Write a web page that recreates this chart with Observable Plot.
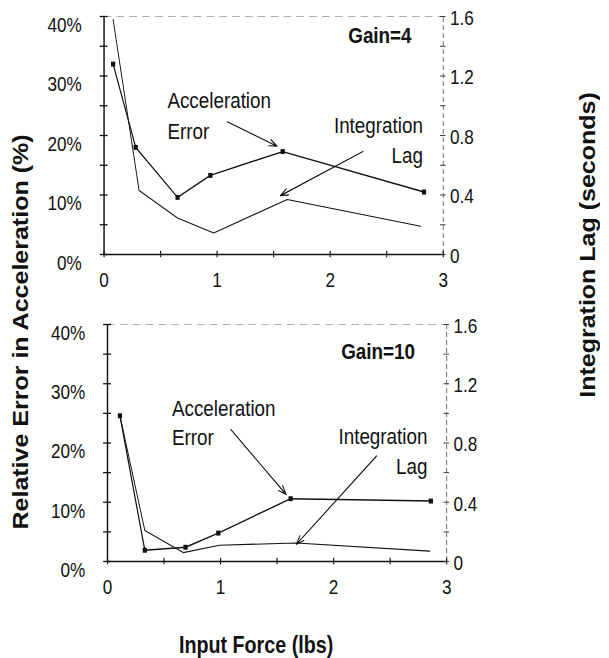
<!DOCTYPE html>
<html>
<head>
<meta charset="utf-8">
<script src="https://cdn.jsdelivr.net/npm/d3@7"></script>
<script src="https://cdn.jsdelivr.net/npm/@observablehq/plot@0.6"></script>
<style>
  html, body { margin: 0; padding: 0; background: #fff; overflow: hidden; }
  #clip { position: relative; width: 609px; height: 658px; overflow: hidden; background: #fff; }
  /* the scanned figure is horizontally condensed; draw on a wider canvas and squeeze it */
  #wrap { position: absolute; left: 0; top: 0; width: 711px; height: 658px;
          transform: scaleX(0.8565); transform-origin: 0 0;
          font-family: "Liberation Sans", Arial, Helvetica, sans-serif; color: #111; }
  .panel { position: absolute; left: 0; }
  .title { position: absolute; white-space: nowrap; line-height: 1; font-weight: bold; font-size: 25px; }
</style>
</head>
<body>
<div id="clip">
<div id="wrap">
  <div id="p1" class="panel" style="top:0px"></div>
  <div id="p2" class="panel" style="top:300px"></div>
  <div class="title" style="left:24px; top:332px; transform: translate(-50%,-50%) rotate(-90deg);">Relative Error in Acceleration (%)</div>
  <div class="title" style="left:686px; top:245px; transform: translate(-50%,-50%) rotate(-90deg);">Integration Lag (seconds)</div>
  <div class="title" style="left:299px; top:645px; font-size:23px; transform: translate(-50%,-50%);">Input Force (lbs)</div>
</div>
</div>
<script>
// ---------- data ----------
// Gain = 4
const force4    = [0.08, 0.28, 0.65, 0.94, 1.58, 2.83];
const accErr4   = [32.0, 18.0, 9.6, 13.3, 17.3, 10.5];      // %
const lagForce4 = [0.08, 0.31, 0.65, 0.97, 1.62, 2.80];
const lag4      = [1.58, 0.43, 0.245, 0.145, 0.37, 0.19];   // seconds

// Gain = 10
const force10    = [0.11, 0.33, 0.69, 0.98, 1.62, 2.86];
const accErr10   = [24.6, 1.9, 2.4, 4.8, 10.6, 10.2];       // %
const lagForce10 = [0.11, 0.33, 0.67, 0.99, 1.67, 2.85];
const lag10      = [0.985, 0.21, 0.06, 0.11, 0.125, 0.07];  // seconds

// axis ticks
const accTicks        = [0, 10, 20, 30, 40];
const accTickLabels   = ["0%", "10%", "20%", "30%", "40%"];
const accMinorTicks   = [0, 5, 10, 15, 20, 25, 30, 35, 40];
const lagTicks        = [0, 0.4, 0.8, 1.2, 1.6];
const lagTickLabels   = ["0", "0.4", "0.8", "1.2", "1.6"];
const lagMinorTicks   = [0, 0.2, 0.4, 0.6, 0.8, 1.0, 1.2, 1.4, 1.6];
const forceTicks      = [0, 1, 2, 3];
const forceTickLabels = ["0", "1", "2", "3"];
const forceMinorTicks = [0, 0.5, 1, 1.5, 2, 2.5, 3];

// annotations (data coordinates: force, %)
const gainLabels = ["Gain=4", "Gain=10"];
const notes4 = [
  {text: "Acceleration", x: 0.56, y: 25.8, anchor: "start"},
  {text: "Error",        x: 0.56, y: 20.6, anchor: "start"},
  {text: "Integration",  x: 2.82, y: 21.6, anchor: "end"},
  {text: "Lag",          x: 2.82, y: 16.6, anchor: "end"}
];
const arrows4 = [
  {x1: 1.09, y1: 22.3, x2: 1.53, y2: 18.2},
  {x1: 2.29, y1: 17.3, x2: 1.56, y2: 9.9}
];
const notes10 = [
  {text: "Acceleration", x: 0.57, y: 25.8, anchor: "start"},
  {text: "Error",        x: 0.57, y: 20.8, anchor: "start"},
  {text: "Integration",  x: 2.83, y: 21.0, anchor: "end"},
  {text: "Lag",          x: 2.83, y: 15.9, anchor: "end"}
];
const arrows10 = [
  {x1: 1.09, y1: 22.3, x2: 1.58, y2: 11.3},
  {x1: 2.38, y1: 17.8, x2: 1.67, y2: 2.9}
];

// ---------- drawing ----------
const LAG_TO_PCT = 25; // 1.6 s on the right axis sits at 40 % on the left axis

function panel({force, acc, lagForce, lag, gain, gainY, notes, arrows, width, height, ml, mr, mt, mb}) {
  const accData = force.map((f, i) => ({force: f, acc: acc[i]}));
  const lagData = lagForce.map((f, i) => ({force: f, lag: lag[i]}));
  return Plot.plot({
    width, height,
    marginLeft: ml, marginRight: mr, marginTop: mt, marginBottom: mb,
    x: {domain: [0, 3]},
    y: {domain: [0, 40]},
    style: {fontFamily: '"Liberation Sans", Arial, Helvetica, sans-serif', fontSize: "20px",
            background: "transparent", color: "#111", overflow: "visible"},
    marks: [
      // frame pieces
      Plot.ruleY([40], {x1: 0, x2: 3, stroke: "#aaa", strokeWidth: 1, strokeDasharray: "9,6"}),
      Plot.ruleX([3], {y1: 0, y2: 40, stroke: "#666", strokeWidth: 1, strokeDasharray: "5,3"}),
      Plot.ruleX([0], {y1: 0, y2: 40, stroke: "#111", strokeWidth: 1.7}),
      Plot.ruleY([0], {x1: 0, x2: 3, stroke: "#111", strokeWidth: 1.6}),
      // cross ticks
      Plot.ruleY(accMinorTicks, {y: d => d, x1: -0.035, x2: 0.035, stroke: "#111", strokeWidth: 1.3}),
      Plot.ruleY(lagMinorTicks, {y: d => d * LAG_TO_PCT, x1: 3 - 0.025, x2: 3 + 0.025, stroke: "#333", strokeWidth: 1}),
      Plot.ruleX(forceMinorTicks, {x: d => d, y1: -0.55, y2: 0.55, stroke: "#111", strokeWidth: 1.3}),
      // axis labels
      Plot.axisY({ticks: accTicks, tickSize: 0, tickPadding: 26, dy: 9,
                  tickFormat: d => accTickLabels[accTicks.indexOf(d)]}),
      Plot.axisY({anchor: "right", ticks: lagTicks.map(d => d * LAG_TO_PCT), tickSize: 0, tickPadding: 8, dy: 2,
                  tickFormat: (d, i) => lagTickLabels[i]}),
      Plot.axisX({ticks: forceTicks, tickSize: 0, tickPadding: 18,
                  tickFormat: d => forceTickLabels[forceTicks.indexOf(d)]}),
      // series
      Plot.line(lagData, {x: "force", y: d => d.lag * LAG_TO_PCT, stroke: "#111", strokeWidth: 1.1}),
      Plot.line(accData, {x: "force", y: "acc", stroke: "#111", strokeWidth: 1.4}),
      Plot.dot(accData, {x: "force", y: "acc", symbol: "square", r: 2.8, fill: "#111", stroke: "none"}),
      // annotations
      Plot.arrow(arrows, {x1: "x1", y1: "y1", x2: "x2", y2: "y2", stroke: "#111", strokeWidth: 1.2,
                          headLength: 12, headAngle: 40}),
      Plot.text(notes.filter(d => d.anchor === "start"), {x: "x", y: "y", text: "text", textAnchor: "start",
                          fontSize: 22, fill: "#111"}),
      Plot.text(notes.filter(d => d.anchor === "end"), {x: "x", y: "y", text: "text", textAnchor: "end",
                          fontSize: 22, fill: "#111"}),
      Plot.text([gain], {x: 2.72, y: gainY, text: d => d, textAnchor: "end",
                          fontSize: 22, fontWeight: "bold", fill: "#111"})
    ]
  });
}

document.getElementById("p1").append(panel({
  force: force4, acc: accErr4, lagForce: lagForce4, lag: lag4, gain: gainLabels[0], gainY: 36.8,
  notes: notes4, arrows: arrows4,
  width: 711, height: 300, ml: 121, mr: 194, mt: 16, mb: 46
}));
document.getElementById("p2").append(panel({
  force: force10, acc: accErr10, lagForce: lagForce10, lag: lag10, gain: gainLabels[1], gainY: 35.4,
  notes: notes10, arrows: arrows10,
  width: 711, height: 320, ml: 125, mr: 190, mt: 24, mb: 59
}));
</script>
</body>
</html>
